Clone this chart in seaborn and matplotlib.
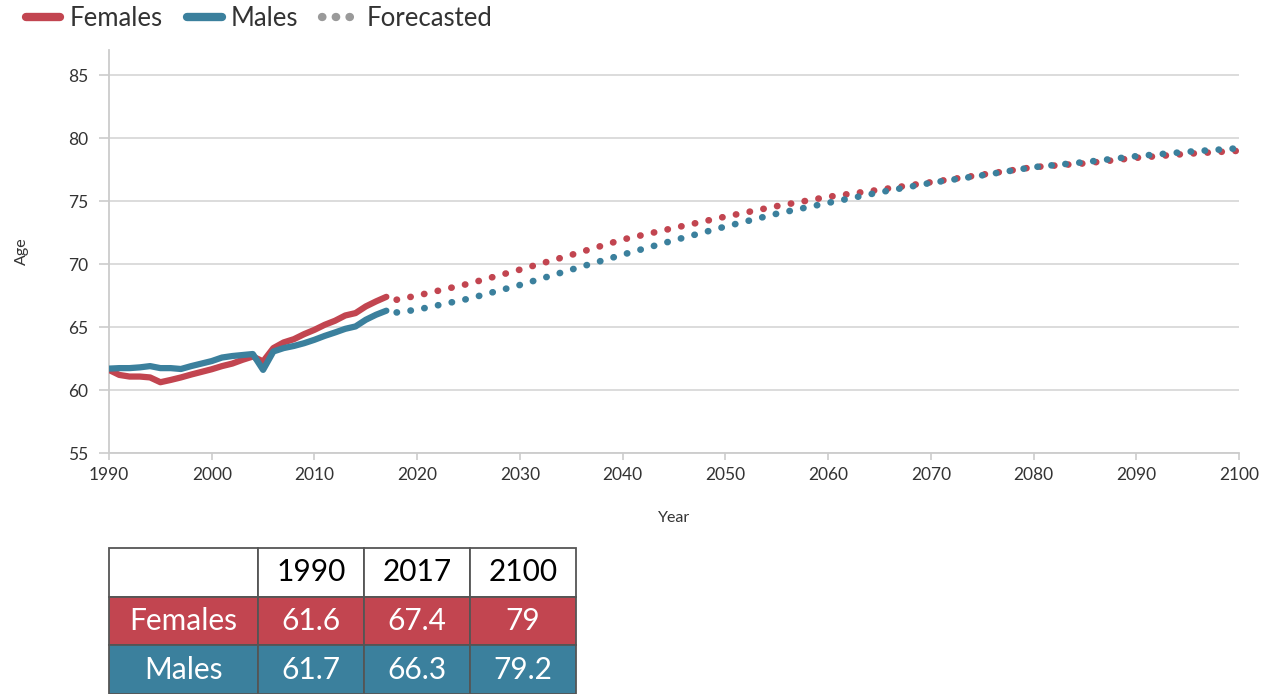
import matplotlib
matplotlib.use("Agg")
import matplotlib.pyplot as plt
import seaborn as sns
import pandas as pd
from matplotlib.lines import Line2D

# observed data
hist_years = list(range(1990, 2018))
hist_females = [61.6, 61.2, 61.07, 61.07, 61.0, 60.62, 60.8, 61.0, 61.23, 61.44,
                61.65, 61.9, 62.1, 62.4, 62.66, 62.27, 63.33, 63.78, 64.04, 64.44,
                64.78, 65.18, 65.5, 65.92, 66.11, 66.64, 67.04, 67.4]
hist_males = [61.7, 61.74, 61.74, 61.8, 61.9, 61.74, 61.74, 61.67, 61.9, 62.1,
              62.3, 62.58, 62.7, 62.78, 62.86, 61.6, 63.06, 63.33, 63.5, 63.72,
              63.99, 64.3, 64.57, 64.86, 65.05, 65.58, 65.98, 66.3]

# forecast data
fc_years = [2018, 2020, 2025, 2030, 2035, 2040, 2045, 2050, 2055, 2060,
            2065, 2070, 2075, 2080, 2085, 2090, 2095, 2100]
fc_females = [67.17, 67.5, 68.44, 69.56, 70.73, 71.95, 72.87, 73.77, 74.6, 75.34,
              75.9, 76.5, 77.1, 77.7, 78.0, 78.44, 78.76, 79.0]
fc_males = [66.16, 66.38, 67.25, 68.34, 69.56, 70.75, 71.89, 72.98, 74.0, 74.86,
            75.7, 76.45, 77.05, 77.7, 78.1, 78.57, 78.92, 79.2]

# summary table
table_cols = ["", "1990", "2017", "2100"]
table_females = ["Females", "61.6", "67.4", "79"]
table_males = ["Males", "61.7", "66.3", "79.2"]

RED = "#C24550"
BLUE = "#3B809D"
GRID = "#d9d9d9"
TEXT = "#333333"

sns.set_style("white")
plt.rcParams["font.family"] = ["Lato", "DejaVu Sans"]

fig = plt.figure(figsize=(12.77, 6.94), dpi=100)
ax = fig.add_axes([109 / 1277, 1 - 453 / 694, 1130 / 1277, 403 / 694])

hist = pd.DataFrame({"Year": hist_years * 2,
                     "Age": hist_females + hist_males,
                     "Sex": ["Females"] * len(hist_years) + ["Males"] * len(hist_years)})
fc = pd.DataFrame({"Year": fc_years * 2,
                   "Age": fc_females + fc_males,
                   "Sex": ["Females"] * len(fc_years) + ["Males"] * len(fc_years)})

palette = {"Females": RED, "Males": BLUE}

sns.lineplot(data=hist, x="Year", y="Age", hue="Sex", palette=palette,
             linewidth=4.5, ax=ax, legend=False, zorder=3)
for line in ax.get_lines():
    line.set_solid_capstyle("round")
    line.set_solid_joinstyle("round")

n_before = len(ax.get_lines())
sns.lineplot(data=fc, x="Year", y="Age", hue="Sex", palette=palette,
             linewidth=4.8, ax=ax, legend=False, zorder=3)
for line in ax.get_lines()[n_before:]:
    line.set_linestyle((0, (0.05, 2.05)))
    line.set_dash_capstyle("round")

ax.set_xlim(1990, 2100)
ax.set_ylim(55, 87)
ax.set_xticks(range(1990, 2101, 10))
ax.set_yticks(range(55, 86, 5))
ax.yaxis.grid(True, color=GRID, linewidth=1.3)
ax.xaxis.grid(False)
for s in ["top", "right"]:
    ax.spines[s].set_visible(False)
ax.spines["left"].set_color("#cccccc")
ax.spines["bottom"].set_color("#cccccc")
ax.spines["left"].set_linewidth(1.3)
ax.spines["bottom"].set_linewidth(1.3)
ax.tick_params(axis="y", length=7, color="#cccccc", width=1.2, labelsize=12.5,
               labelcolor=TEXT, pad=8, left=True)
ax.tick_params(axis="x", length=5, color="#cccccc", width=1.2, labelsize=12.5,
               labelcolor=TEXT, pad=5, bottom=True)
ax.set_xlabel("Year", fontsize=11.5, color=TEXT, labelpad=20)
ax.set_ylabel("Age", fontsize=11.5, color=TEXT, labelpad=28)

# legend
handles = [
    Line2D([0], [0], color=RED, linewidth=6, solid_capstyle="round"),
    Line2D([0], [0], color=BLUE, linewidth=6, solid_capstyle="round"),
    Line2D([0], [0], color="#9a9a9a", linewidth=6, linestyle=(0, (0.05, 1.6)),
           dash_capstyle="round"),
]
fig.legend(handles, ["Females", "Males", "Forecasted"], loc="upper left",
           bbox_to_anchor=(0.002, 1.025), ncol=3, frameon=False, fontsize=18.5,
           handlelength=1.35, handletextpad=0.35, columnspacing=0.95,
           labelcolor=TEXT)

# table
tax = fig.add_axes([109 / 1277, 0, 467 / 1277, 146 / 694])
tax.axis("off")
tbl = tax.table(cellText=[table_cols, table_females, table_males],
                bbox=[0, 0, 1, 1], cellLoc="center",
                colWidths=[149, 106, 106, 106])
tbl.auto_set_font_size(False)
for (r, c), cell in tbl.get_celld().items():
    cell.set_edgecolor("#555555")
    cell.set_linewidth(1.3)
    txt = cell.get_text()
    txt.set_fontsize(21.5)
    if r == 0:
        cell.set_facecolor("white")
        txt.set_color("black")
    else:
        cell.set_facecolor(RED if r == 1 else BLUE)
        txt.set_color("white")

fig.savefig("out.png", dpi=100)
